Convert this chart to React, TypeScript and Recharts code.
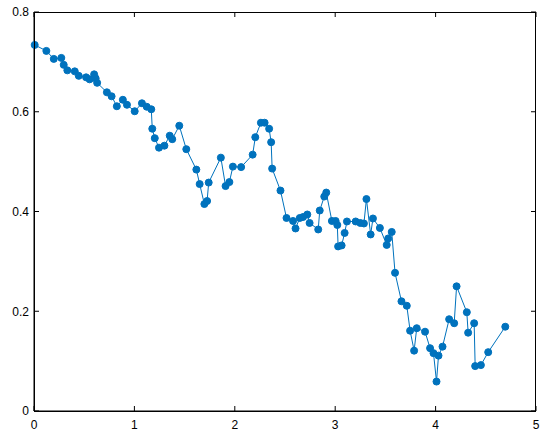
import { LineChart, Line, XAxis, YAxis } from 'recharts';

const xValues = [
  0.007, 0.123, 0.197, 0.272, 0.296, 0.332, 0.406, 0.446, 0.519, 0.554,
  0.599, 0.614, 0.629, 0.726, 0.773, 0.825, 0.885, 0.926, 1.003, 1.075,
  1.123, 1.168, 1.178, 1.203, 1.245, 1.299, 1.352, 1.377, 1.447, 1.517,
  1.617, 1.65, 1.697, 1.724, 1.74, 1.861, 1.908, 1.946, 1.981, 2.063,
  2.178, 2.204, 2.26, 2.297, 2.342, 2.362, 2.372, 2.455, 2.515, 2.58,
  2.605, 2.647, 2.68, 2.722, 2.745, 2.831, 2.846, 2.891, 2.911, 2.967,
  3.004, 3.021, 3.029, 3.064, 3.094, 3.117, 3.204, 3.25, 3.286, 3.311,
  3.353, 3.376, 3.445, 3.513, 3.528, 3.563, 3.596, 3.66, 3.713, 3.746,
  3.786, 3.812, 3.895, 3.945, 3.979, 4.009, 4.029, 4.069, 4.135, 4.185,
  4.209, 4.311, 4.324, 4.384, 4.394, 4.451, 4.524, 4.694,
];
const yValues = [
  0.734, 0.722, 0.706, 0.708, 0.694, 0.683, 0.681, 0.672, 0.669, 0.665,
  0.675, 0.667, 0.658, 0.639, 0.631, 0.611, 0.624, 0.614, 0.601, 0.617,
  0.61, 0.605, 0.566, 0.547, 0.528, 0.532, 0.552, 0.545, 0.572, 0.525,
  0.484, 0.455, 0.415, 0.421, 0.458, 0.508, 0.451, 0.459, 0.49, 0.489,
  0.514, 0.549, 0.578, 0.578, 0.566, 0.539, 0.486, 0.442, 0.387, 0.381,
  0.366, 0.387, 0.389, 0.394, 0.377, 0.364, 0.402, 0.43, 0.438, 0.381,
  0.381, 0.373, 0.33, 0.332, 0.357, 0.38, 0.38, 0.377, 0.376, 0.425,
  0.354, 0.386, 0.367, 0.333, 0.346, 0.359, 0.277, 0.22, 0.211, 0.161,
  0.121, 0.166, 0.159, 0.126, 0.116, 0.059, 0.111, 0.129, 0.184, 0.176,
  0.25, 0.198, 0.157, 0.176, 0.09, 0.092, 0.118, 0.169,
];
const xTicks = [0, 1, 2, 3, 4, 5];
const yTicks = [0, 0.2, 0.4, 0.6, 0.8];

const data = xValues.map((x, i) => ({ x, y: yValues[i] }));

const blue = '#0072BD';
const font = 'Liberation Sans, Arial, sans-serif';

// plot box edges in px (margins + axis sizes below)
const TOP = 12;
const BOTTOM = 411;
const LEFT = 34;
const RIGHT = 536;
const TICK = 5;

// ticks point inward, on both sides of the box
const XTick = (props: any) => {
  const { x, y, payload } = props;
  return (
    <g>
      <line x1={x} x2={x} y1={BOTTOM} y2={BOTTOM - TICK} stroke="black" strokeWidth={1} />
      <line x1={x} x2={x} y1={TOP} y2={TOP + TICK} stroke="black" strokeWidth={1} />
      <text x={x} y={y} dy="0.71em" textAnchor="middle" fill="black" fontSize={12} fontFamily={font}>
        {payload.value}
      </text>
    </g>
  );
};

const YTick = (props: any) => {
  const { x, y, payload } = props;
  return (
    <g>
      <line x1={LEFT} x2={LEFT + TICK} y1={y} y2={y} stroke="black" strokeWidth={1} />
      <line x1={RIGHT} x2={RIGHT - TICK} y1={y} y2={y} stroke="black" strokeWidth={1} />
      <text x={x} y={y} dy="0.355em" textAnchor="end" fill="black" fontSize={12} fontFamily={font}>
        {payload.value}
      </text>
    </g>
  );
};

export default function App() {
  return (
    <div style={{ position: 'absolute', left: 0, top: 0, width: 550, height: 439 }}>
      <LineChart width={550} height={439} data={data} margin={{ top: TOP, right: 550 - RIGHT, left: 0, bottom: 0 }}>
        <XAxis
          type="number"
          dataKey="x"
          domain={[0, 5]}
          ticks={xTicks}
          height={439 - BOTTOM}
          tick={XTick}
          tickLine={false}
          tickSize={0}
          tickMargin={9}
          stroke="black"
        />
        <YAxis
          type="number"
          domain={[0, 0.8]}
          ticks={yTicks}
          width={LEFT}
          tick={YTick}
          tickLine={false}
          tickSize={0}
          tickMargin={5}
          stroke="black"
        />
        <Line
          type="linear"
          dataKey="y"
          stroke={blue}
          strokeWidth={1}
          dot={{ r: 3.5, fill: blue, stroke: blue, strokeWidth: 1 }}
          isAnimationActive={false}
        />
      </LineChart>
      {/* box around the plot area */}
      <div
        style={{
          position: 'absolute',
          left: LEFT,
          top: TOP,
          width: RIGHT - LEFT,
          height: BOTTOM - TOP + 1,
          border: '1px solid black',
          boxSizing: 'border-box',
          pointerEvents: 'none',
        }}
      />
    </div>
  );
}
